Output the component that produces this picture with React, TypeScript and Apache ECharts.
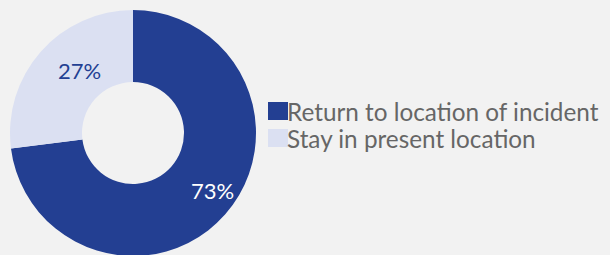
import React, { useEffect, useRef } from "react";
import * as echarts from "echarts";

const categories = ["Return to location of incident", "Stay in present location"];
const values = [73, 27];
const colors = ["#233f92", "#dbe0f2"];
const labelColors = ["#ffffff", "#233f92"];

export default function App() {
  const ref = useRef<HTMLDivElement>(null);
  useEffect(() => {
    const chart = echarts.init(ref.current!, null, { renderer: "svg" });
    chart.setOption({
      animation: false,
      backgroundColor: "#f2f2f2",
      legend: {
        orient: "vertical",
        left: 268,
        top: 99,
        padding: 0,
        itemWidth: 20,
        itemHeight: 18,
        itemGap: 3,
        icon: "rect",
        selectedMode: false,
        textStyle: {
          fontFamily: "Lato",
          fontSize: 24.3,
          lineHeight: 24,
          color: "#666666",
          padding: [0, 0, 0, -6],
        },
        data: categories,
      },
      series: [
        {
          type: "pie",
          center: [133, 133],
          radius: [51, 123],
          startAngle: 90,
          clockwise: true,
          label: {
            show: true,
            position: "inside",
            formatter: "{c}%",
            fontFamily: "Lato",
            fontSize: 22,
          },
          labelLine: { show: false },
          emphasis: { disabled: true },
          data: categories.map((name, i) => ({
            name,
            value: values[i],
            itemStyle: { color: colors[i] },
            label: { color: labelColors[i], offset: i === 0 ? [12, -2] : [14, -3] },
          })),
        },
      ],
    });
    return () => chart.dispose();
  }, []);
  return <div ref={ref} style={{ width: 610, height: 255, position: "absolute", left: 0, top: 0 }} />;
}
